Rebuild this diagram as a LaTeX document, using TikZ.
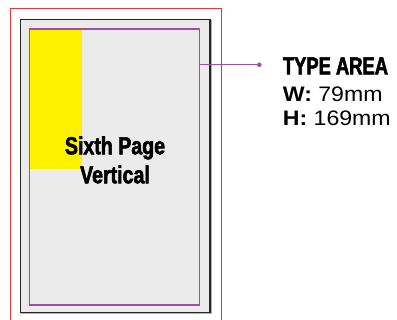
\documentclass[tikz,border=0pt]{standalone}
\usepackage{fontspec}
\setmainfont[FakeStretch=1.1]{Liberation Sans}
\newfontfamily\headfont[FakeStretch=0.8,BoldFeatures={FakeBold=2.2}]{Liberation Sans}
\newfontfamily\areafont[FakeStretch=0.75,BoldFeatures={FakeBold=2.2}]{Liberation Sans}
\usetikzlibrary{positioning}
\definecolor{trimred}{HTML}{EE3238}
\definecolor{areapurple}{HTML}{A34DA8}
\definecolor{pagegray}{HTML}{EBEBEB}
\definecolor{adyellow}{HTML}{FFF200}
\tikzset{
  typearea/.style={draw=areapurple, line width=1.2pt, rectangle, inner sep=0pt},
  leader/.style={draw=areapurple, line width=1.2pt},
  title/.style={font=\headfont\bfseries\fontsize{24.5}{28}\selectfont, inner sep=0pt},
  info/.style={font=\fontsize{21}{24}\selectfont, inner sep=0pt}
}
\begin{document}
\begin{tikzpicture}[x=1pt,y=-1pt]

% Canvas
\useasboundingbox (0,0) rectangle (397,320);
\clip (0,0) rectangle (397,320);

% Trim line (open at the bottom)
\draw[trimred, line width=1pt] (10.5,330) -- (10.5,8.5) -- (221.3,8.5) -- (221.3,330);

% Page with a light shadow
\draw[gray!60, line width=1.4pt] (21.6,20.3) rectangle (210.9,313.2);
\filldraw[fill=pagegray, draw=black!85, line width=1.3pt] (20.7,19.3) rectangle (210,312.3);

% Sixth page ad in the corner
\fill[adyellow] (29.7,29) rectangle (81.7,169.3);

% Type area
\node[typearea, minimum width=169.6pt, minimum height=276pt] (area) at (114.5,167) {};

% Label of the ad
\node[title, align=center] (adname) at (115,160) {Sixth Page\\[1pt]Vertical};

% Leader to the dimensions
\fill[areapurple] (259.3,64.8) circle (2.3pt) coordinate (dot);
\draw[leader] (dot -| area.east) -- (dot);

% Dimensions
\node[title, font=\areafont\bfseries\fontsize{24.5}{28}\selectfont, anchor=base west] (areatitle) at (282.7,74.3) {TYPE AREA};
\node[info, anchor=base west] (areaw) at (282.7,101.7) {\textbf{W:} 79mm};
\node[info, anchor=base west] (areah) at (282.7,126) {\textbf{H:} 169mm};

\end{tikzpicture}
\end{document}
